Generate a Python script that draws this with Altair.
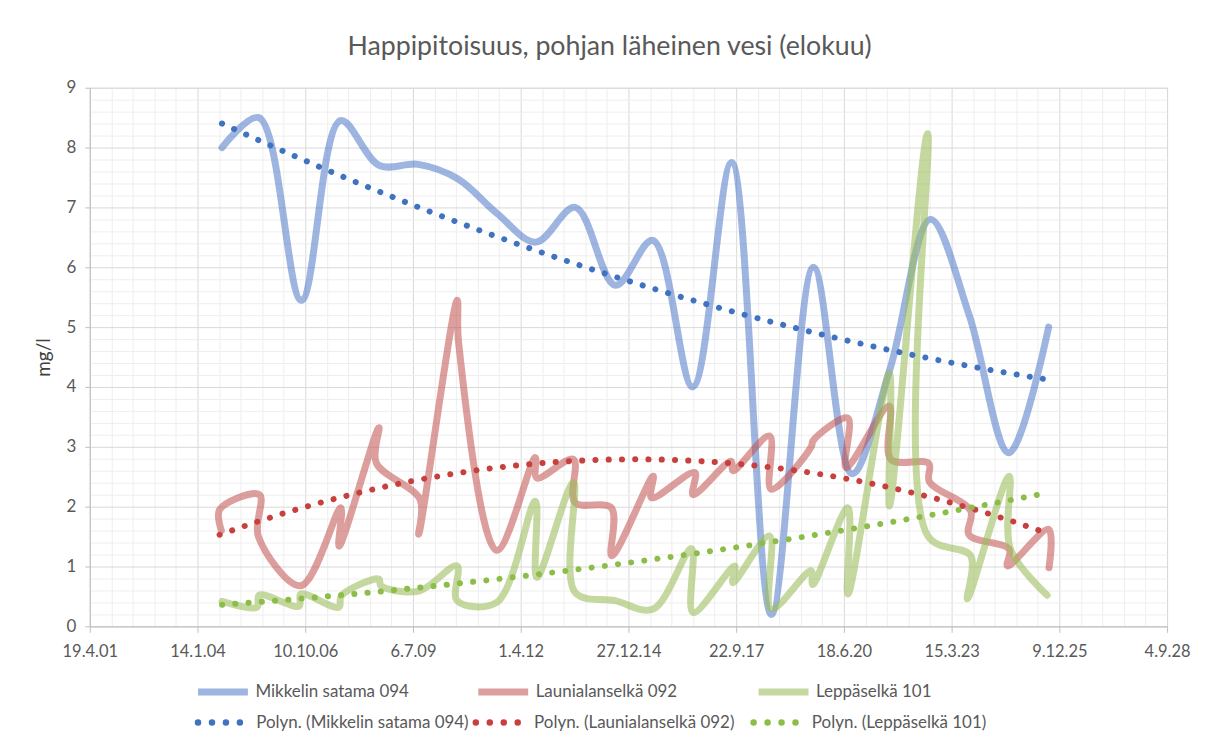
import datetime as dt
import altair as alt

# ---------------- data ----------------
TITLE = "Happipitoisuus, pohjan läheinen vesi (elokuu)"
Y_TITLE = "mg/l"
SERIES_NAMES = ["Mikkelin satama 094", "Launialanselkä 092", "Leppäselkä 101"]
TREND_NAMES = ["Polyn. (Mikkelin satama 094)", "Polyn. (Launialanselkä 092)",
               "Polyn. (Leppäselkä 101)"]

MIKKELI_DATES = ["2004-08-28", "2005-08-05", "2006-09-04", "2007-09-01", "2008-08-28",
                 "2009-08-25", "2010-08-25", "2011-08-25", "2012-08-20", "2013-08-20",
                 "2014-08-28", "2015-08-10", "2016-08-15", "2017-08-10", "2018-08-15",
                 "2019-09-10", "2020-09-01", "2021-08-20", "2022-08-30", "2023-08-25",
                 "2024-08-28", "2025-09-01"]
MIKKELI_VALUES = [8.0, 8.5, 5.45, 8.45, 7.7, 7.72, 7.48, 6.9, 6.42, 7.0, 5.7, 6.45,
                  4.0, 7.75, 0.2, 6.0, 2.55, 4.3, 6.8, 5.2, 2.9, 5.0]

LAUNIALA_DATES = ["2004-08-22", "2004-08-06", "2005-08-10", "2005-08-01", "2006-08-30",
                  "2007-09-05", "2007-08-20", "2008-08-24", "2008-07-30", "2009-09-10",
                  "2009-08-28", "2010-08-20", "2010-09-02", "2011-08-23", "2012-08-14",
                  "2012-08-29", "2013-08-03", "2013-08-18", "2014-07-22", "2014-07-26",
                  "2015-08-14", "2015-07-29", "2016-09-03", "2016-08-18", "2017-08-07",
                  "2017-08-23", "2018-07-29", "2018-08-13", "2019-08-20", "2019-09-05",
                  "2020-07-24", "2020-07-08", "2021-08-13", "2021-08-28", "2022-08-15",
                  "2022-08-20", "2023-09-08", "2023-08-24", "2024-08-30", "2024-08-14",
                  "2025-09-02", "2025-09-04"]
LAUNIALA_VALUES = [1.6, 1.95, 2.2, 1.5, 0.68, 1.98, 1.34, 3.32, 2.73, 2.12, 1.54, 5.45,
                   4.75, 1.27, 2.82, 2.48, 2.79, 2.07, 1.98, 1.18, 2.51, 2.15, 2.57, 2.2,
                   2.76, 2.6, 3.18, 2.29, 3.0, 3.1, 3.48, 2.65, 3.68, 2.79, 2.72, 2.42,
                   1.93, 1.53, 1.29, 1.01, 1.62, 0.98]

LEPPA_DATES = ["2004-08-29", "2005-07-20", "2005-08-08", "2006-08-14", "2006-08-30",
               "2007-08-18", "2007-09-10", "2008-08-24", "2008-09-10", "2009-08-29",
               "2010-08-18", "2010-08-20", "2011-08-23", "2012-08-14", "2012-08-29",
               "2013-08-03", "2013-08-18", "2014-08-24", "2015-08-14", "2016-08-03",
               "2016-08-18", "2017-09-08", "2017-08-23", "2018-07-29", "2018-08-13",
               "2019-08-18", "2019-09-03", "2020-07-24", "2020-07-26", "2021-08-13",
               "2021-08-15", "2022-08-03", "2022-08-06", "2023-09-08", "2023-08-08",
               "2024-08-30", "2024-09-10", "2025-08-18"]
LEPPA_VALUES = [0.42, 0.32, 0.52, 0.34, 0.54, 0.32, 0.51, 0.79, 0.68, 0.59, 1.01, 0.43,
                0.4, 2.09, 0.82, 2.4, 0.57, 0.43, 0.29, 1.3, 0.23, 1.01, 0.73, 1.51,
                0.29, 0.93, 0.7, 1.98, 0.54, 4.23, 2.01, 8.23, 1.51, 1.18, 0.46, 2.51,
                1.3, 0.52]

# x axis ticks are Excel date serials (19.4.01 = 37000 ... 4.9.28 = 47000)
X_MAJOR_SERIALS = [37000, 38000, 39000, 40000, 41000, 42000, 43000, 44000, 45000,
                   46000, 47000]
X_MINOR_STEP = 200
Y_TICKS = [0, 1, 2, 3, 4, 5, 6, 7, 8, 9]

# ---------------- helpers / table ----------------
DAY_MS = 86400000


def iso_ms(s):
    return (dt.date.fromisoformat(s) - dt.date(1970, 1, 1)).days * DAY_MS


def serial_ms(n):
    return (n - 25569) * DAY_MS


rows = []
for name, dates, values in zip(SERIES_NAMES,
                               [MIKKELI_DATES, LAUNIALA_DATES, LEPPA_DATES],
                               [MIKKELI_VALUES, LAUNIALA_VALUES, LEPPA_VALUES]):
    for i, (d, v) in enumerate(zip(dates, values)):
        rows.append({"series": name, "label": name, "t": iso_ms(d), "v": v, "i": i})
data = alt.Data(values=rows)

x_minor = [serial_ms(s) for s in range(X_MAJOR_SERIALS[0], X_MAJOR_SERIALS[-1], X_MINOR_STEP)
           if (s - X_MAJOR_SERIALS[0]) % 1000 != 0]
y_minor = [round(k * 0.2, 1) for k in range(1, 45) if k % 5 != 0]

FONT = "Lato"
TXT = "#595959"

x_scale = alt.Scale(type="utc", domain=[serial_ms(X_MAJOR_SERIALS[0]), serial_ms(X_MAJOR_SERIALS[-1])],
                    nice=False)
y_scale = alt.Scale(domain=[0, 9], nice=False, zero=True)

line_colors = alt.Scale(domain=SERIES_NAMES,
                        range=["rgba(68,114,196,0.52)", "rgba(192,80,77,0.55)",
                               "rgba(155,187,89,0.58)"])
trend_colors = alt.Scale(domain=TREND_NAMES, range=["#3F72C0", "#C7403E", "#8CBD48"])

# legend symbol for the dotted trend entries: four small round dots
_r = 0.066
DOTS = "".join(f"M{c - _r:.3f},0A{_r},{_r} 0 1,1 {c + _r:.3f},0A{_r},{_r} 0 1,1 {c - _r:.3f},0Z"
               for c in [-1.02, -0.46, 0.10, 0.66])

common_legend = dict(title=None, orient="none", direction="horizontal",
                     columns=3, gridAlign="all", symbolSize=2500,
                     labelFont=FONT, labelFontSize=17, labelColor=TXT,
                     padding=0, labelLimit=400)
legend_lines = alt.Legend(symbolType="stroke", symbolStrokeWidth=7, legendX=105,
                          legendY=577, labelOffset=4, columnPadding=54, **common_legend)
legend_trend = alt.Legend(symbolType=DOTS, symbolStrokeWidth=3.2, legendX=107,
                          legendY=609, labelOffset=5.9, columnPadding=-2.5, **common_legend)

major_x_axis = alt.Axis(values=[serial_ms(s) for s in X_MAJOR_SERIALS], format="%-d.%-m.%y",
                        title=None, grid=True, gridColor="#D9D9D9", gridWidth=1,
                        domainColor="#BFBFBF", domainWidth=1, tickColor="#BFBFBF",
                        tickSize=6, labelFont=FONT, labelFontSize=16.5, labelColor=TXT,
                        labelPadding=11, labelFlush=False, labelOverlap=False)
major_y_axis = alt.Axis(values=Y_TICKS, title=Y_TITLE, grid=True, gridColor="#D9D9D9",
                        gridWidth=1, domainColor="#BFBFBF", domainWidth=1,
                        tickColor="#BFBFBF", tickSize=5, labelFont=FONT,
                        labelFontSize=17, labelColor=TXT, labelPadding=9,
                        titleFont=FONT, titleFontSize=19, titleFontWeight="normal",
                        titleColor="#404040", titlePadding=13)
minor_x_axis = alt.Axis(values=x_minor, orient="top", grid=True, gridColor="#EEEEEE",
                        gridWidth=1, ticks=False, labels=False, domain=False, title=None)
minor_y_axis = alt.Axis(values=y_minor, orient="right", grid=True, gridColor="#EEEEEE",
                        gridWidth=1, ticks=False, labels=False, domain=False, title=None)

grid = alt.Chart(data).mark_point(opacity=0).encode(
    x=alt.X("t:T", scale=x_scale, axis=minor_x_axis),
    y=alt.Y("v:Q", scale=y_scale, axis=minor_y_axis),
)

main = alt.Chart(data).mark_line(interpolate="catmull-rom", strokeWidth=7,
                                 strokeCap="round", strokeJoin="round").encode(
    x=alt.X("t:T", scale=x_scale, axis=major_x_axis),
    y=alt.Y("v:Q", scale=y_scale, axis=major_y_axis),
    color=alt.Color("label:N", scale=line_colors, legend=legend_lines),
    order=alt.Order("i:Q"),
)

trend = alt.Chart(data).transform_calculate(
    d="datum.t / 86400000"
).transform_regression(
    "d", "v", method="poly", order=2, groupby=["series"]
).transform_calculate(
    t="datum.d * 86400000", label="'Polyn. (' + datum.series + ')'"
).mark_line(strokeWidth=6, strokeCap="round", strokeDash=[0.1, 13.2]).encode(
    x=alt.X("t:T", scale=x_scale, axis=None),
    y=alt.Y("v:Q", scale=y_scale, axis=None),
    stroke=alt.Stroke("label:N", scale=trend_colors, legend=legend_trend),
)

chart = alt.layer(grid, main, trend).resolve_axis(
    x="independent", y="independent"
).properties(
    width=1080, height=540,
    title=alt.TitleParams(text=TITLE, font=FONT, fontSize=26.8, fontWeight="normal",
                          color=TXT, anchor="middle", offset=18, dx=-19),
    padding={"left": 82, "top": 79, "right": 30, "bottom": 110},
    autosize=alt.AutoSizeParams(type="none"),
).configure_view(stroke=None).configure(font=FONT)

chart.save("out.html", embed_options={"renderer": "svg", "actions": False})
